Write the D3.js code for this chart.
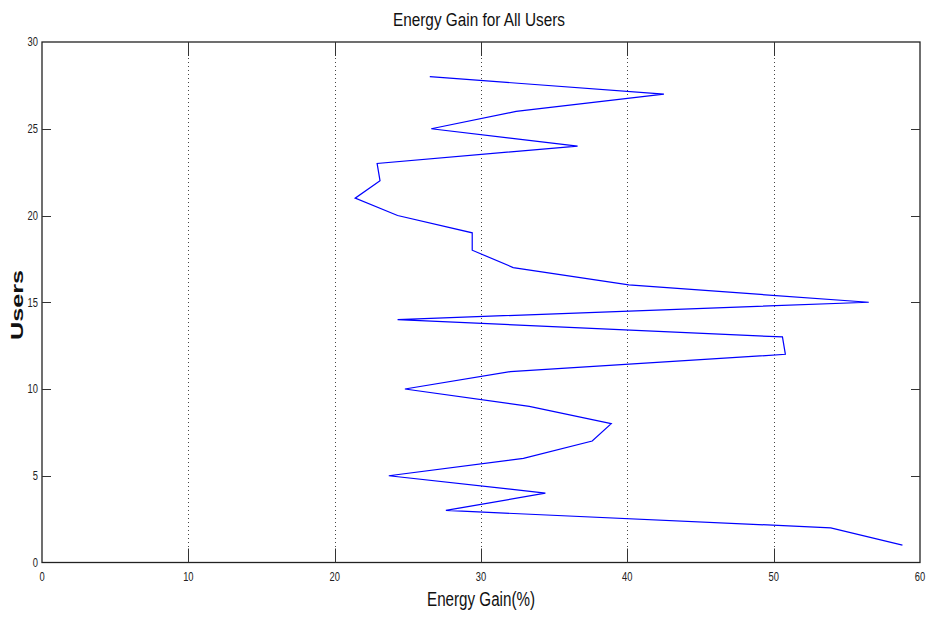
<!DOCTYPE html>
<html>
<head>
<meta charset="utf-8">
<script src="https://cdn.jsdelivr.net/npm/d3@7"></script>
<style>
  body { margin: 0; background: #fff; }
  svg { display: block; }
  text { font-family: "Liberation Sans Narrow", "Liberation Sans", Arial, sans-serif; }
</style>
</head>
<body>
<svg id="chart" width="927" height="619"></svg>
<script>
// Data
const users = [1,2,3,4,5,6,7,8,9,10,11,12,13,14,15,16,17,18,19,20,21,22,23,24,25,26,27,28];
const gains = [58.8, 53.9, 27.6, 34.4, 23.7, 32.9, 37.6, 38.9, 33.3, 24.8, 32.0, 50.8, 50.6, 24.3,
               56.5, 40.1, 32.2, 29.4, 29.4, 24.3, 21.4, 23.1, 22.9, 36.6, 26.6, 32.4, 42.5, 26.5];
const xTicks = [0, 10, 20, 30, 40, 50, 60];
const yTicks = [0, 5, 10, 15, 20, 25, 30];
const titleText = "Energy Gain for All Users";
const xLabelText = "Energy Gain(%)";
const yLabelText = "Users";

const svg = d3.select("#chart");
const L = 42, R = 920, T = 42, B = 562.5;

const x = d3.scaleLinear().domain([0, 60]).range([L, R]);
const y = d3.scaleLinear().domain([0, 30]).range([B, T]);

// Grid (vertical dotted)
svg.append("g").selectAll("line")
  .data(xTicks.filter(d => d > 0 && d < 60))
  .join("line")
  .attr("x1", d => Math.round(x(d)) + 0.5).attr("x2", d => Math.round(x(d)) + 0.5)
  .attr("y1", T).attr("y2", B)
  .attr("stroke", "#444").attr("stroke-width", 1)
  .attr("stroke-dasharray", "1,3");

// Line
const line = d3.line().x((d, i) => x(gains[i])).y((d, i) => y(users[i]));
svg.append("path")
  .datum(users)
  .attr("d", line)
  .attr("fill", "none")
  .attr("stroke", "#0000ff")
  .attr("stroke-width", 1.2);

// Axes box
svg.append("rect")
  .attr("x", L).attr("y", T).attr("width", R - L).attr("height", B - T)
  .attr("fill", "none").attr("stroke", "#222").attr("stroke-width", 1.3);

// Ticks: inward on all sides
const xtl = 14, ytl = 9;
const tg = svg.append("g").attr("stroke", "#333").attr("stroke-width", 1);
xTicks.filter(d => d > 0 && d < 60).forEach(d => {
  const xx = Math.round(x(d)) + 0.5;
  tg.append("line").attr("x1", xx).attr("x2", xx).attr("y1", B).attr("y2", B - xtl);
  tg.append("line").attr("x1", xx).attr("x2", xx).attr("y1", T).attr("y2", T + xtl);
});
yTicks.filter(d => d > 0 && d < 30).forEach(d => {
  const yy = Math.round(y(d)) + 0.5;
  tg.append("line").attr("x1", L).attr("x2", L + ytl).attr("y1", yy).attr("y2", yy);
  tg.append("line").attr("x1", R).attr("x2", R - ytl).attr("y1", yy).attr("y2", yy);
});

// Tick labels
svg.append("g").selectAll("text")
  .data(xTicks).join("text")
  .attr("x", d => x(d)).attr("y", B + 19)
  .attr("text-anchor", "middle")
  .attr("font-size", 13).attr("fill", "#222")
  .attr("transform", d => `translate(${x(d)},0) scale(0.72,1) translate(${-x(d)},0)`)
  .text(d => d);

svg.append("g").selectAll("text")
  .data(yTicks).join("text")
  .attr("x", 38).attr("y", d => y(d) + 4.5)
  .attr("text-anchor", "end")
  .attr("font-size", 13).attr("fill", "#222")
  .attr("transform", "translate(38,0) scale(0.72,1) translate(-38,0)")
  .text(d => d);

// Title
svg.append("text")
  .attr("x", (L + R) / 2 - 2).attr("y", 26)
  .attr("text-anchor", "middle")
  .attr("font-size", 18).attr("fill", "#111")
  .attr("textLength", 172).attr("lengthAdjust", "spacingAndGlyphs")
  .text(titleText);

// X label
svg.append("text")
  .attr("x", 481).attr("y", 606)
  .attr("text-anchor", "middle")
  .attr("font-size", 20).attr("fill", "#111")
  .attr("textLength", 108).attr("lengthAdjust", "spacingAndGlyphs")
  .text(xLabelText);

// Y label
svg.append("text")
  .attr("transform", "translate(23,305) rotate(-90)")
  .attr("text-anchor", "middle")
  .attr("font-family", "Liberation Sans, Arial, sans-serif")
  .attr("font-size", 17).attr("font-weight", "bold").attr("fill", "#111")
  .attr("textLength", 70).attr("lengthAdjust", "spacingAndGlyphs")
  .text(yLabelText);
</script>
</body>
</html>
